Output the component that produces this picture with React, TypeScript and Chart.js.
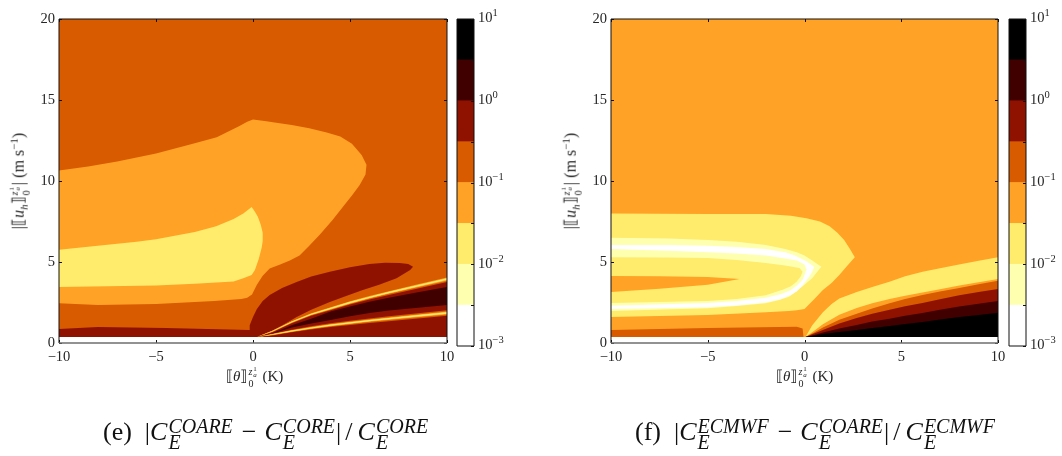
import React, { useEffect, useRef } from "react";
import { Chart, registerables } from "chart.js";

Chart.register(...registerables);

// ---------- colour levels (afmhot reversed, half-decade bands) ----------
const WHITE = "#ffffff";
const PALE = "#ffffb0";
const YELLOW = "#ffec6c";
const LIGHT = "#ffa225";
const ORANGE = "#d95b00";
const RED = "#8f1100";
const DARK = "#400000";
const BLACK = "#000000";

const bandColors = [WHITE, PALE, YELLOW, LIGHT, ORANGE, RED, DARK, BLACK];
const bandEdges = [0.001, 0.00316, 0.01, 0.0316, 0.1, 0.316, 1, 3.16, 10];
const decadeValues = [10, 1, 0.1, 0.01, 0.001];
const decadeExponents = ["1", "0", "\u22121", "\u22122", "\u22123"];
const xTicks = [-10, -5, 0, 5, 10];
const yTicks = [0, 5, 10, 15, 20];

// ---------- panel (e): contour polygons in data units ----------
const eBackX = [-10, 10, 10, -10];
const eBackY = [0.37, 0.37, 20, 20];

const eLightX = [-10, -8.5, -7, -5, -3.1, -1.87, -0.7, -0.3, 0, 0.6, 1.2, 2, 2.9, 3.8, 4.5, 5.1, 5.6, 5.85, 5.8, 5.5, 5.1, 4.7, 4.1, 3.45, 2.9, 2.4, 1.9, 1.4, 0.86, 0.5, 0.2, -0.05, -0.3, -0.6, -2, -5, -8, -10];
const eLightY = [10.65, 10.9, 11.2, 11.7, 12.3, 12.7, 13.4, 13.65, 13.8, 13.7, 13.6, 13.45, 13.25, 13.0, 12.75, 12.3, 11.6, 11, 10.4, 9.75, 9.1, 8.5, 7.6, 6.7, 6, 5.4, 5.1, 4.85, 4.6, 4.15, 3.6, 3, 2.8, 2.72, 2.6, 2.4, 2.35, 2.45];

const eYellowX = [-10, -8, -6, -5, -3, -1.9, -1, -0.5, -0.07, 0.1, 0.25, 0.4, 0.5, 0.5, 0.45, 0.3, 0.1, -0.07, -0.5, -1, -3, -5, -10];
const eYellowY = [5.75, 6, 6.25, 6.4, 6.85, 7.2, 7.65, 8, 8.4, 8.1, 7.8, 7.3, 6.8, 6.3, 5.9, 5.2, 4.5, 4.2, 4, 3.8, 3.65, 3.55, 3.45];

const eRedX = [-10, -10, -8, -4.5, -0.2, -0.17, 0, 0.2, 0.5, 0.86, 1.5, 2.25, 3, 3.96, 5, 6, 6.8, 7.56, 8, 8.25, 8.1, 7.4, 6.5, 5.66, 4.8, 3.96, 3, 2.25, 1.5, 1, 0.2];
const eRedY = [0.37, 0.86, 0.99, 0.93, 0.8, 1.1, 1.6, 2.1, 2.6, 2.96, 3.4, 3.77, 4.1, 4.4, 4.67, 4.87, 4.95, 4.94, 4.87, 4.7, 4.5, 4, 3.6, 3.27, 2.9, 2.53, 2.05, 1.6, 1.08, 0.75, 0.37];

const eWedgeX = [0.2, 1, 2, 3, 4, 5, 6, 7, 8.5, 10, 10];
const eWedgeY = [0.37, 0.72, 1.3, 1.78, 2.14, 2.5, 2.82, 3.12, 3.53, 3.95, 0.37];

const stripeX = [0.2, 1, 2, 3, 4, 5, 6, 7, 8.5, 10, 10, 8.5, 7, 6, 5, 4, 3, 2, 1];
const upOrangeY = [0.37, 0.77, 1.38, 1.88, 2.26, 2.63, 2.96, 3.27, 3.7, 4.13, 3.77, 3.36, 2.97, 2.68, 2.37, 2.02, 1.68, 1.22, 0.67];
const upLightY = [0.37, 0.75, 1.345, 1.835, 2.205, 2.57, 2.895, 3.2, 3.62, 4.05, 3.85, 3.44, 3.04, 2.745, 2.43, 2.075, 1.725, 1.255, 0.69];
const upYellowY = [0.37, 0.735, 1.325, 1.81, 2.175, 2.54, 2.86, 3.165, 3.58, 4.0, 3.9, 3.48, 3.075, 2.78, 2.46, 2.105, 1.75, 1.275, 0.705];
const lowOrangeY = [0.37, 0.57, 0.82, 1.03, 1.22, 1.37, 1.52, 1.65, 1.84, 2.02, 1.68, 1.52, 1.35, 1.24, 1.11, 0.98, 0.83, 0.66, 0.47];
const lowLightY = [0.37, 0.55, 0.785, 0.985, 1.165, 1.31, 1.455, 1.58, 1.765, 1.94, 1.76, 1.595, 1.42, 1.305, 1.17, 1.035, 0.875, 0.695, 0.49];
const lowYellowY = [0.37, 0.535, 0.765, 0.96, 1.135, 1.28, 1.42, 1.54, 1.725, 1.9, 1.8, 1.635, 1.46, 1.34, 1.2, 1.065, 0.9, 0.715, 0.505];
const eDarkY = [0.37, 0.6, 1.1, 1.5, 1.95, 2.25, 2.55, 2.8, 3.13, 3.45, 2.35, 2.17, 2.0, 1.85, 1.65, 1.42, 1.2, 0.95, 0.58];

// ---------- panel (f): contour polygons in data units ----------
const fBackX = [-10, 10, 10, -10];
const fBackY = [0.37, 0.37, 20, 20];

const fYellowX = [-10, -5, -2, -0.7, 0.1, 0.8, 1.3, 1.7, 2.05, 2.35, 2.6, 2.2, 1.8, 1.4, 0.95, 0.5, 0, -0.4, -0.8, -2, -5, -10];
const fYellowY = [8.0, 7.97, 7.96, 7.85, 7.7, 7.5, 7.2, 6.8, 6.36, 5.8, 5.3, 4.75, 4.2, 3.7, 3.27, 2.7, 2.1, 2.02, 1.98, 1.9, 1.73, 1.6];
const fPaleX = [-10, -7, -5, -3.5, -2, -1, -0.4, 0, 0.4, 0.87, 0.6, 0.4, 0, -0.4, -0.8, -1.3, -2, -3.5, -5, -10];
const fPaleY = [6.5, 6.45, 6.36, 6.25, 6.05, 5.8, 5.6, 5.4, 5.1, 4.7, 4.3, 4.0, 3.6, 3.2, 2.85, 2.65, 2.45, 2.28, 2.15, 1.98];
const fWhiteX = [-10, -7, -5, -3.5, -2, -1, -0.5, 0.1, 0.5, 0.4, 0.25, -0.1, -0.4, -0.7, -1.2, -2, -3.5, -5, -10];
const fWhiteY = [6.05, 6.05, 6.0, 5.92, 5.8, 5.6, 5.4, 5.05, 4.7, 4.4, 4.1, 3.55, 3.2, 2.96, 2.72, 2.5, 2.32, 2.2, 2.1];
const fPaleInX = [-10, -7, -5, -3.5, -2, -1, -0.4, 0, 0.1, 0, -0.1, -0.4, -0.7, -1.2, -2, -3.5, -5, -10];
const fPaleInY = [5.8, 5.7, 5.6, 5.52, 5.4, 5.22, 5.1, 4.85, 4.55, 4.2, 3.9, 3.55, 3.27, 3.02, 2.8, 2.6, 2.47, 2.3];
const fYellowInX = [-10, -7, -5, -3.5, -2, -1, -0.26, -0.1, -0.2, -0.4, -0.7, -1.1, -2, -3.5, -5, -10];
const fYellowInY = [5.3, 5.28, 5.25, 5.12, 4.94, 4.78, 4.63, 4.4, 4.1, 3.8, 3.5, 3.3, 2.95, 2.72, 2.6, 2.47];
const fTipX = [-10, -7.5, -5, -3.35, -5, -7.5, -10];
const fTipY = [4.14, 4.12, 4.07, 3.95, 3.6, 3.35, 3.15];
const fOrangeBlockX = [-10, -10, -5, -0.4, -0.1, -0.05];
const fOrangeBlockY = [0.37, 0.8, 0.93, 1.0, 0.9, 0.37];

const fWedgeYellowX = [0.05, 0.4, 0.95, 1.4, 1.8, 2.7, 3.5, 4.39, 5.2, 6.1, 7, 7.85, 9, 10, 10];
const fWedgeYellowY = [0.37, 1.1, 1.9, 2.4, 2.75, 3.15, 3.45, 3.78, 4.12, 4.4, 4.62, 4.81, 5.07, 5.3, 0.37];
const wedgeStepX = [0.05, 0.5, 0.95, 1.8, 2.7, 3.5, 4.4, 5.2, 6.1, 7, 8, 9, 10, 10];
const fWedgeLightY = [0.37, 0.75, 1.15, 1.75, 2.16, 2.45, 2.72, 2.92, 3.12, 3.32, 3.55, 3.75, 3.95, 0.37];
const fWedgeOrangeY = [0.37, 0.65, 0.95, 1.43, 1.8, 2.13, 2.45, 2.72, 2.96, 3.18, 3.4, 3.63, 3.85, 0.37];
const fWedgeRedY = [0.37, 0.58, 0.8, 1.2, 1.54, 1.8, 2.05, 2.27, 2.47, 2.7, 2.95, 3.15, 3.33, 0.37];
const fWedgeDarkY = [0.37, 0.5, 0.65, 0.9, 1.11, 1.32, 1.5, 1.68, 1.85, 2.05, 2.25, 2.43, 2.6, 0.37];
const fWedgeBlackY = [0.37, 0.46, 0.55, 0.68, 0.8, 0.93, 1.05, 1.17, 1.3, 1.45, 1.6, 1.73, 1.86, 0.37];

type Layer = [string, number[], number[]];

const panelE: Layer[] = [
  [ORANGE, eBackX, eBackY],
  [LIGHT, eLightX, eLightY],
  [YELLOW, eYellowX, eYellowY],
  [RED, eRedX, eRedY],
  [RED, eWedgeX, eWedgeY],
  [ORANGE, stripeX, upOrangeY],
  [LIGHT, stripeX, upLightY],
  [YELLOW, stripeX, upYellowY],
  [ORANGE, stripeX, lowOrangeY],
  [LIGHT, stripeX, lowLightY],
  [YELLOW, stripeX, lowYellowY],
  [DARK, stripeX, eDarkY],
];

const panelF: Layer[] = [
  [LIGHT, fBackX, fBackY],
  [YELLOW, fYellowX, fYellowY],
  [PALE, fPaleX, fPaleY],
  [WHITE, fWhiteX, fWhiteY],
  [PALE, fPaleInX, fPaleInY],
  [YELLOW, fYellowInX, fYellowInY],
  [LIGHT, fTipX, fTipY],
  [ORANGE, fOrangeBlockX, fOrangeBlockY],
  [YELLOW, fWedgeYellowX, fWedgeYellowY],
  [LIGHT, wedgeStepX, fWedgeLightY],
  [ORANGE, wedgeStepX, fWedgeOrangeY],
  [RED, wedgeStepX, fWedgeRedY],
  [DARK, wedgeStepX, fWedgeDarkY],
  [BLACK, wedgeStepX, fWedgeBlackY],
];

const W = 1062;
const H = 456;
const FONT = '"Liberation Serif", "DejaVu Serif", serif';
const TEXT = "#262626";

const frame = {
  id: "frame",
  afterDraw(chart: any) {
    const { ctx, chartArea: a, scales } = chart;
    const isBar = chart.config.type === "bar";
    ctx.save();
    ctx.strokeStyle = "#111";
    ctx.lineWidth = 1;
    const line = (x1: number, y1: number, x2: number, y2: number) => {
      ctx.beginPath();
      ctx.moveTo(x1, y1);
      ctx.lineTo(x2, y2);
      ctx.stroke();
    };
    for (const t of scales.y.ticks) {
      const y = Math.round(scales.y.getPixelForValue(t.value)) + 0.5;
      line(a.right, y, a.right - 3, y);
      if (!isBar) line(a.left, y, a.left + 3, y);
    }
    if (!isBar) {
      for (const t of scales.x.ticks) {
        const x = Math.round(scales.x.getPixelForValue(t.value)) + 0.5;
        line(x, a.top, x, a.top + 3);
        line(x, a.bottom, x, a.bottom - 3);
      }
    }
    line(a.left, a.top, a.right, a.top);
    line(a.left, a.top, a.left, a.bottom);
    line(a.right, a.top, a.right, a.bottom);
    ctx.strokeStyle = isBar ? "#111" : "#6e6e6e";
    ctx.lineWidth = isBar ? 1 : 1.6;
    line(a.left, a.bottom, a.right, a.bottom);
    if (isBar) {
      ctx.fillStyle = TEXT;
      ctx.textAlign = "left";
      ctx.textBaseline = "middle";
      decadeValues.forEach((v, i) => {
        const y = scales.y.getPixelForValue(v) - 0.5;
        ctx.font = `14.5px ${FONT}`;
        ctx.fillText("10", a.right + 4, y);
        ctx.font = `10.5px ${FONT}`;
        ctx.fillText(decadeExponents[i], a.right + 18.5, y - 5);
      });
    }
    ctx.restore();
  },
};

const fixBox = (size: number, horizontal: boolean) => (s: any) => {
  if (horizontal) s.height = size;
  else s.width = size;
  s.paddingLeft = s.paddingRight = s.paddingTop = s.paddingBottom = 0;
};

function makePanel(cv: HTMLCanvasElement, layers: Layer[], left: number, right: number) {
  return new Chart(cv, {
    type: "scatter",
    plugins: [frame],
    data: {
      datasets: layers
        .slice()
        .reverse()
        .map(([color, xs, ys]) => ({
          data: xs.map((x, i) => ({ x, y: ys[i] })),
          showLine: true,
          fill: "shape",
          backgroundColor: color,
          borderColor: "transparent",
          borderWidth: 0,
          pointRadius: 0,
          tension: 0,
        })),
    },
    options: {
      responsive: false,
      animation: false,
      events: [],
      layout: { padding: { left: left - 40, right: W - right, top: 19, bottom: H - 343 - 30 } },
      plugins: { legend: { display: false }, tooltip: { enabled: false } },
      scales: {
        x: {
          type: "linear",
          min: -10,
          max: 10,
          afterFit: fixBox(30, true),
          afterBuildTicks: (s: any) => { s.ticks = xTicks.map((value) => ({ value })); },
          grid: { display: false, drawTicks: false, tickLength: 0 },
          border: { display: false },
          ticks: {
            color: TEXT,
            padding: 5,
            maxRotation: 0,
            font: { family: FONT, size: 14.5 },
            callback: (v: any) => String(v).replace("-", "\u2212"),
          },
        },
        y: {
          type: "linear",
          min: 0,
          max: 20,
          afterFit: fixBox(40, false),
          afterBuildTicks: (s: any) => { s.ticks = yTicks.map((value) => ({ value })); },
          grid: { display: false, drawTicks: false, tickLength: 0 },
          border: { display: false },
          ticks: { color: TEXT, padding: 4, font: { family: FONT, size: 14.5 } },
        },
      },
    } as any,
  });
}

function makeBar(cv: HTMLCanvasElement, left: number, right: number) {
  return new Chart(cv, {
    type: "bar",
    plugins: [frame],
    data: {
      labels: ["scale"],
      datasets: bandColors.map((color, i) => ({
        data: [[bandEdges[i], bandEdges[i + 1]]],
        backgroundColor: color,
        borderWidth: 0,
        grouped: false,
        barPercentage: 1,
        categoryPercentage: 1,
      })),
    } as any,
    options: {
      responsive: false,
      animation: false,
      events: [],
      layout: { padding: { left, right: W - right - 36, top: 19, bottom: H - 346 } },
      plugins: { legend: { display: false }, tooltip: { enabled: false } },
      scales: {
        x: { display: false },
        y: {
          type: "logarithmic",
          position: "right",
          min: 0.001,
          max: 10,
          afterFit: fixBox(36, false),
          afterBuildTicks: (s: any) => { s.ticks = bandEdges.map((value) => ({ value })); },
          grid: { display: false, drawTicks: false },
          border: { display: false },
          ticks: { display: false },
        },
      },
    } as any,
  });
}

// ---------- text helpers ----------
function Scr({ sup, sub, size, lh = 1 }: { sup: React.ReactNode; sub: React.ReactNode; size: number; lh?: number }) {
  return (
    <span
      style={{
        display: "inline-flex",
        flexDirection: "column",
        verticalAlign: "middle",
        fontSize: size,
        lineHeight: lh,
        margin: "0 1px",
      }}
    >
      <span>{sup}</span>
      <span>{sub}</span>
    </span>
  );
}

const BoundsSup = (
  <span style={{ display: "inline-block" }}>
    <i>z</i>
    <Scr size={7} sup="1" sub={<i>a</i>} lh={0.9} />
  </span>
);

function UAxisLabel() {
  return (
    <span>
      |⟦<i>u</i>
      <sub style={{ fontSize: 11 }}><i>h</i></sub>⟧
      <Scr size={10} sup={BoundsSup} sub="0" />|{" "}(m s<sup style={{ fontSize: 11, lineHeight: 0 }}>−1</sup>)
    </span>
  );
}

function ThetaAxisLabel() {
  return (
    <span>
      ⟦<i>θ</i>⟧
      <Scr size={10} sup={BoundsSup} sub="0" /> (K)
    </span>
  );
}

function CE({ top }: { top: string }) {
  return (
    <span>
      <i>C</i>
      <Scr size={20} lh={0.8} sup={<i>{top}</i>} sub={<i>E</i>} />
    </span>
  );
}

const slash = <span style={{ margin: "0 5px 0 4px" }}>/</span>;
const minus = <span style={{ margin: "0 1.5px" }}> − </span>;

const textBase: React.CSSProperties = {
  position: "absolute",
  fontFamily: FONT,
  color: TEXT,
  whiteSpace: "nowrap",
};

const layerCanvas: React.CSSProperties = { position: "absolute", left: 0, top: 0 };

export default function App() {
  const a = useRef<HTMLCanvasElement>(null);
  const b = useRef<HTMLCanvasElement>(null);
  const c = useRef<HTMLCanvasElement>(null);
  const d = useRef<HTMLCanvasElement>(null);

  useEffect(() => {
    const charts = [
      makePanel(a.current!, panelE, 59, 447),
      makeBar(b.current!, 457, 474),
      makePanel(c.current!, panelF, 611, 998),
      makeBar(d.current!, 1009, 1026),
    ];
    return () => charts.forEach((ch) => ch.destroy());
  }, []);

  return (
    <div style={{ position: "absolute", left: 0, top: 0, width: W, height: H, overflow: "hidden", background: "#fff" }}>
      <canvas ref={a} width={W} height={H} style={layerCanvas} />
      <canvas ref={b} width={W} height={H} style={layerCanvas} />
      <canvas ref={c} width={W} height={H} style={layerCanvas} />
      <canvas ref={d} width={W} height={H} style={layerCanvas} />

      <div style={{ ...textBase, fontSize: 16, left: 20, top: 181, transform: "translate(-50%,-50%) rotate(-90deg)" }}>
        <UAxisLabel />
      </div>
      <div style={{ ...textBase, fontSize: 16, left: 572, top: 181, transform: "translate(-50%,-50%) rotate(-90deg)" }}>
        <UAxisLabel />
      </div>
      <div style={{ ...textBase, fontSize: 15, left: 226, top: 366 }}>
        <ThetaAxisLabel />
      </div>
      <div style={{ ...textBase, fontSize: 15, left: 776, top: 366 }}>
        <ThetaAxisLabel />
      </div>

      <div style={{ ...textBase, fontSize: 26, left: 103, top: 417, color: "#111" }}>
        (e)&nbsp; |<CE top="COARE" />{minus}<CE top="CORE" />|{slash}<CE top="CORE" />
      </div>
      <div style={{ ...textBase, fontSize: 26, left: 635, top: 417, color: "#111" }}>
        (f)&nbsp; |<CE top="ECMWF" />{minus}<CE top="COARE" />|{slash}<CE top="ECMWF" />
      </div>
    </div>
  );
}
